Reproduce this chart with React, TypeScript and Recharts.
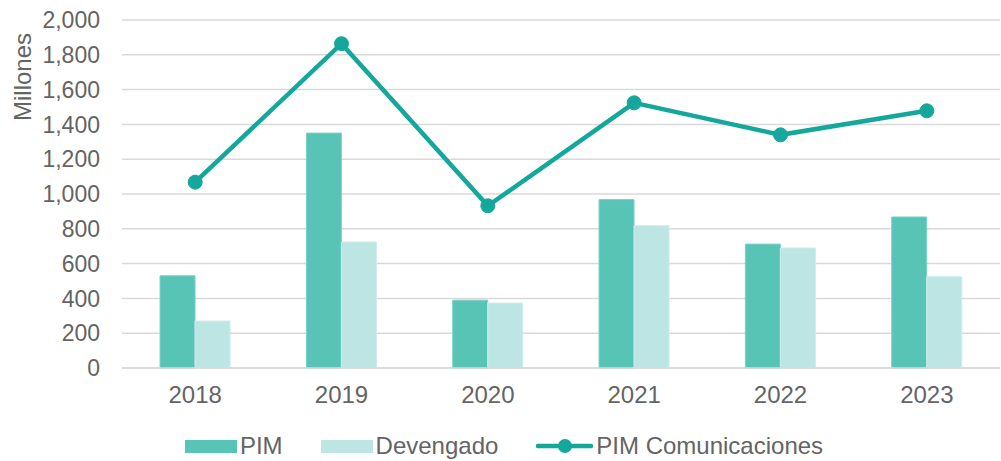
import { ComposedChart, Bar, Line, XAxis, YAxis, CartesianGrid, Legend } from "recharts";

const years = ["2018", "2019", "2020", "2021", "2022", "2023"];
const pim = [530, 1350, 390, 968, 712, 868];
const devengado = [270, 724, 373, 818, 690, 524];
const pimComunicaciones = [1068, 1864, 932, 1524, 1340, 1478];
const yTicks = [0, 200, 400, 600, 800, 1000, 1200, 1400, 1600, 1800, 2000];
const seriesOrder = ["pim", "devengado", "pimCom"];

const data = years.map((year, i) => ({
  year,
  pim: pim[i],
  devengado: devengado[i],
  pimCom: pimComunicaciones[i],
}));

const FONT = "'Liberation Sans', Arial, sans-serif";
const TEXT = "#646464";

function LegendContent(props: any) {
  const payload = [...(props.payload || [])].sort(
    (a: any, b: any) => seriesOrder.indexOf(a.dataKey) - seriesOrder.indexOf(b.dataKey)
  );
  return (
    <div
      style={{
        display: "flex",
        justifyContent: "center",
        alignItems: "center",
        height: 30,
        fontFamily: FONT,
        fontSize: 24,
        color: TEXT,
        paddingLeft: 8,
      }}
    >
      {payload.map((entry: any, i: number) => (
        <div key={i} style={{ display: "flex", alignItems: "center", marginLeft: i === 0 ? 0 : 38 }}>
          {entry.type === "line" ? (
            <svg width={57} height={20} style={{ marginRight: 3 }}>
              <line x1={2} y1={10} x2={55} y2={10} stroke={entry.color} strokeWidth={4.5} strokeLinecap="round" />
              <circle cx={29} cy={10} r={7} fill={entry.color} />
            </svg>
          ) : (
            <span style={{ display: "inline-block", width: 52, height: 13, background: entry.color, marginRight: 3 }} />
          )}
          <span>{entry.value}</span>
        </div>
      ))}
    </div>
  );
}

function AxisTitle(props: any) {
  const { viewBox } = props;
  const x = 22;
  const y = (viewBox?.y ?? 20) + 57;
  return (
    <text
      x={x}
      y={y}
      transform={`rotate(-90, ${x}, ${y})`}
      textAnchor="middle"
      dominantBaseline="central"
      fontFamily={FONT}
      fontSize={24}
      fill={TEXT}
    >
      Millones
    </text>
  );
}

export default function App() {
  return (
    <div style={{ position: "absolute", left: 0, top: 0, background: "#fff" }}>
      <ComposedChart
        width={1001}
        height={461}
        data={data}
        margin={{ top: 20, right: 1, bottom: 0, left: 0 }}
        barCategoryGap="26%"
        barGap={0}
      >
        <CartesianGrid vertical={false} stroke="#d9d9d9" strokeWidth={1.5} />
        <XAxis
          dataKey="year"
          height={63}
          tickSize={0}
          tickMargin={18}
          axisLine={{ stroke: "#d9d9d9", strokeWidth: 1.5 }}
          tickLine={false}
          tick={{ fontFamily: FONT, fontSize: 24, fill: TEXT }}
        />
        <YAxis
          width={122}
          domain={[0, 2000]}
          ticks={yTicks}
          interval={0}
          tickSize={0}
          tickMargin={22}
          axisLine={false}
          tickLine={false}
          tickFormatter={(v: number) => v.toLocaleString("en-US")}
          tick={{ fontFamily: FONT, fontSize: 23, fill: TEXT }}
          label={<AxisTitle />}
        />
        <Legend verticalAlign="bottom" content={<LegendContent />} />
        <Bar dataKey="pim" name="PIM" fill="#57c4b6" stroke="#7cd2c6" strokeWidth={1} legendType="rect" isAnimationActive={false} />
        <Bar dataKey="devengado" name="Devengado" fill="#bde5e4" stroke="#cdeceb" strokeWidth={1} legendType="rect" isAnimationActive={false} />
        <Line
          dataKey="pimCom"
          name="PIM Comunicaciones"
          type="linear"
          stroke="#13a89b"
          strokeWidth={4.5}
          dot={{ r: 7, fill: "#13a89b", stroke: "#13a89b", strokeWidth: 1 }}
          legendType="line"
          isAnimationActive={false}
        />
      </ComposedChart>
    </div>
  );
}
